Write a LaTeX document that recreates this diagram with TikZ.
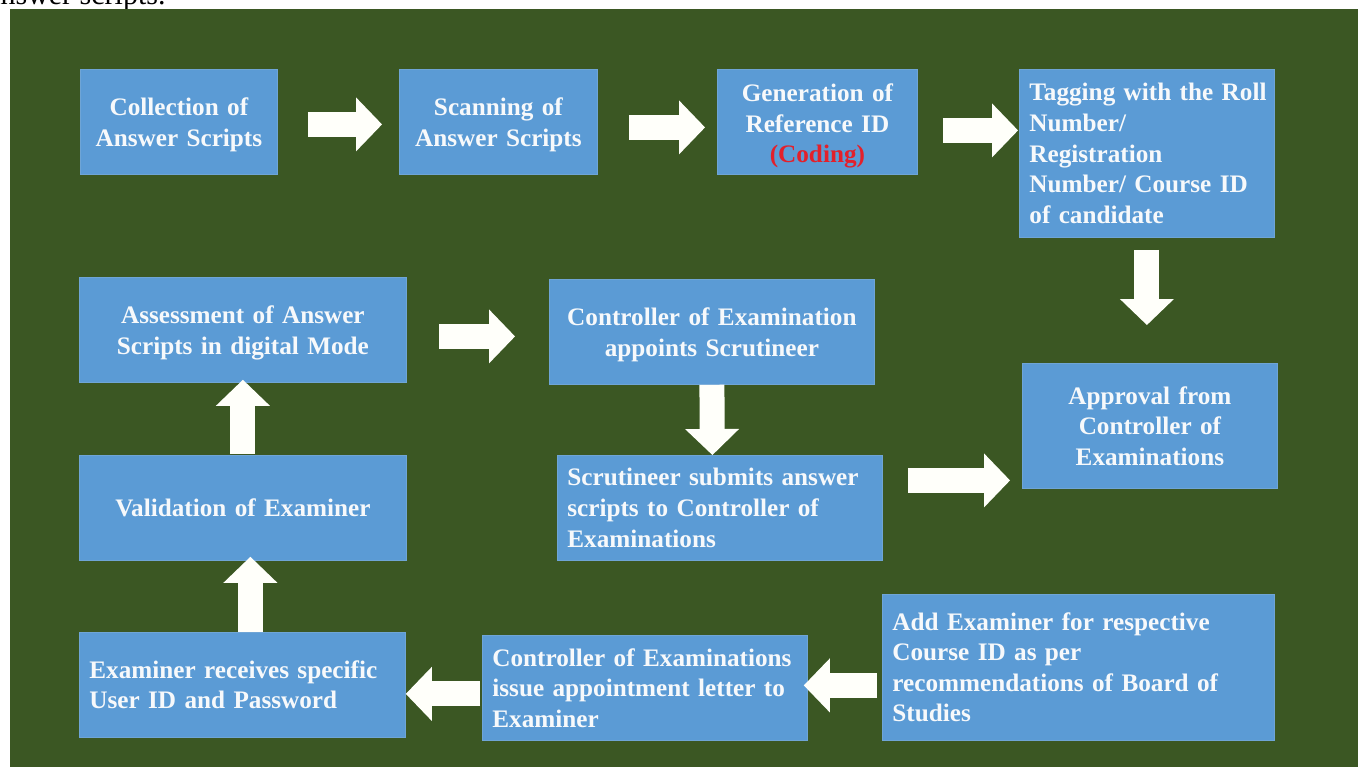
\documentclass[tikz,border=0pt]{standalone}
\usepackage{fontspec}
\setmainfont{Liberation Serif}
\usetikzlibrary{arrows.meta,calc}
\newlength\pu
\setlength\pu{0.75pt}
\definecolor{bggreen}{HTML}{3B5723}
\definecolor{boxblue}{HTML}{5B9BD5}
\definecolor{boxedge}{HTML}{6FA5D6}
\definecolor{codered}{HTML}{E3202B}
\definecolor{txtwhite}{HTML}{F7F9FB}
\definecolor{arrwhite}{HTML}{FFFFFA}
\begin{document}
\begin{tikzpicture}[x=0.75pt,y=-0.75pt,
  boxbase/.style={draw=boxedge,line width=0.6pt,fill=boxblue,anchor=north west,
    inner xsep=7.5pt,inner ysep=0pt,text=txtwhite,
    font=\fontsize{18.9pt}{22.9pt}\selectfont\bfseries},
  cbox/.style={boxbase,align=center},
  lbox/.style={boxbase,align=left},
  lowtext/.style={execute at begin node={\rule{0pt}{#1}}},
  blockarrow/.style={draw=arrwhite,line width=18.75pt,line cap=butt,
    -{Triangle[length=19.5pt,width=40.5pt,line width=0pt]}}]
\useasboundingbox (0,0) rectangle (1358,767);
\fill[white] (0,0) rectangle (1358,767);
\begin{scope}
  \clip (0,0) rectangle (1358,9);
  \node[anchor=base west,inner sep=0pt,font=\fontsize{22.5pt}{26pt}\selectfont] (toptext) at (-13,5) {answer scripts.};
\end{scope}
\fill[bggreen] (10,9) rectangle (1358,767);

% row 1
\node[cbox,lowtext=17.5pt,minimum width=197\pu,minimum height=105\pu,text width=177\pu] (n1) at (80,69)
  {Collection of\\Answer Scripts};
\node[cbox,lowtext=17.5pt,minimum width=198\pu,minimum height=105\pu,text width=178\pu] (n2) at (399,69)
  {Scanning of\\Answer Scripts};
\node[cbox,lowtext=19.5pt,minimum width=200\pu,minimum height=105\pu,text width=180\pu] (n3) at (717,69)
  {Generation of\\Reference ID\\\textcolor{codered}{(Coding)}};
\node[lbox,minimum width=255\pu,minimum height=168\pu,text width=235\pu] (n4) at (1019,69)
  {\mbox{Tagging with the Roll}\\Number/\\Registration\\\mbox{Number/ Course ID}\\of candidate};
% middle
\node[cbox,minimum width=255\pu,minimum height=125\pu,text width=235\pu] (n5) at (1022,363)
  {Approval from\\Controller of\\Examinations};
\node[cbox,lowtext=17.5pt,minimum width=327\pu,minimum height=105\pu,text width=307\pu] (n6) at (79,277)
  {Assessment of Answer\\Scripts in digital Mode};
\node[cbox,lowtext=17.5pt,minimum width=325\pu,minimum height=105\pu,text width=305\pu] (n7) at (549,279)
  {Controller of Examination\\appoints Scrutineer};
\node[lbox,minimum width=325\pu,minimum height=105\pu,text width=305\pu] (n8) at (557,455)
  {\mbox{Scrutineer submits answer}\\\mbox{scripts to Controller of}\\Examinations};
\node[cbox,minimum width=327\pu,minimum height=105\pu,text width=307\pu] (n9) at (79,455)
  {Validation of Examiner};
% bottom
\node[lbox,minimum width=326\pu,minimum height=105\pu,text width=306\pu] (n10) at (79,632)
  {\mbox{Examiner receives specific}\\User ID and Password};
\node[lbox,minimum width=325\pu,minimum height=105\pu,text width=305\pu] (n11) at (482,635)
  {\mbox{Controller of Examinations}\\\mbox{issue appointment letter to}\\Examiner};
\node[lbox,minimum width=392\pu,minimum height=146\pu,text width=372\pu] (n12) at (882,594)
  {\mbox{Add Examiner for respective}\\Course ID as per\\\mbox{recommendations of Board of}\\Studies};

% block arrows
\draw[blockarrow] ($(n1.east)+(30,2.5)$) -- ($(n2.west)+(-17,2.5)$);
\draw[blockarrow] ($(n2.east)+(31,5.5)$) -- ($(n3.west)+(-12,5.5)$);
\draw[blockarrow] ($(n3.east)+(25,8.5)$) -- ($(n4.west)+(-1,-23)$);
\draw[blockarrow] ($(n4.south)+(0,12)$) -- ($(n5.north)+(-3,-38)$);
\draw[blockarrow] ($(n6.east)+(32,6.5)$) -- ($(n7.west)+(-34,4.5)$);
\draw[blockarrow] ($(n7.south)+(0,0)$) -- ($(n8.north)+(-7.5,0)$);
\draw[blockarrow] ($(n8.east)+(25,-27.5)$) -- ($(n5.west)+(-12,54.5)$);
\draw[blockarrow] ($(n9.north)+(0,-1)$) -- ($(n6.south)+(0,-3)$);
\draw[blockarrow] ($(n10.north)+(8,0)$) -- ($(n9.south)+(7.5,-4)$);
\draw[blockarrow] ($(n11.west)+(-2,6)$) -- ($(n10.east)+(0,9)$);
\draw[blockarrow] ($(n12.west)+(-5,18)$) -- ($(n11.east)+(-4,-2.5)$);
\end{tikzpicture}
\end{document}
